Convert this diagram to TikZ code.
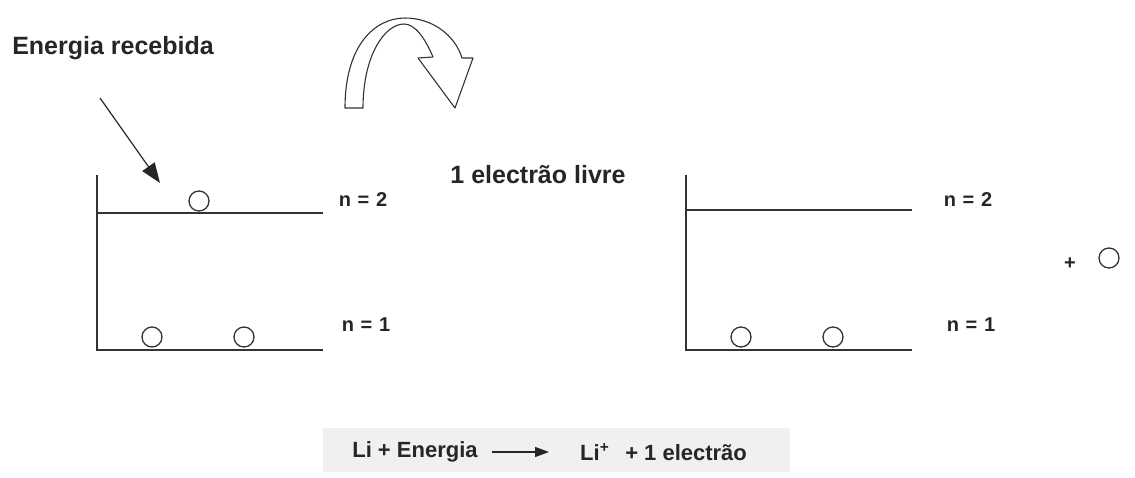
\documentclass[tikz,border=0pt]{standalone}
\usepackage{fontspec}
\setmainfont{Liberation Sans}
\usetikzlibrary{arrows.meta, positioning}

\begin{document}
\begin{tikzpicture}[
  x=1pt,
  y=-1pt,
  every node/.style={font=\fontsize{20}{24}\selectfont\bfseries, text=black!85},
  bigtext/.style={font=\fontsize{25}{30}\selectfont\bfseries},
  eqtext/.style={font=\fontsize{22}{26}\selectfont\bfseries, inner sep=0pt},
  level/.style={line width=1.7pt, black!80},
  electron/.style={circle, draw=black!80, line width=1.3pt, minimum size=20pt, inner sep=0pt},
  arrow/.style={-{Triangle[length=20pt,width=15pt]}, line width=1.2pt, black!85},
  eqarrow/.style={-{Triangle[length=14pt,width=10pt]}, line width=1.4pt, black!85}
]
  % Page frame.
  \useasboundingbox[fill=white] (0,0) rectangle (1135,477);

  % Incoming energy.
  \node[bigtext] (energy) at (113,48) {Energia recebida};
  \coordinate (energytip) at (160,183);
  \draw[arrow] (100,98) -- (energytip);

  % Curved block arrow.
  \draw[line width=1.1pt, black!80, fill=white, line join=round]
    (345,108) .. controls (345,45) and (375,18) .. (405,18)
    .. controls (432,18) and (455,35) .. (462,58)
    -- (473,58) -- (455,108) -- (418,58) -- (433,57)
    .. controls (425,38) and (415,24) .. (404,24)
    .. controls (385,24) and (363,55) .. (363,108) -- cycle;

  % Left atom: before ionisation.
  \coordinate (laxtop) at (97,175);
  \coordinate (laxbot) at (97,350);
  \coordinate (ltwo) at (323,213);
  \coordinate (lone) at (323,350);
  \draw[level] (laxtop) -- (laxbot) -- (lone);
  \draw[level] (97,213) -- (ltwo);
  \node[electron] (lexc) at (199,201) {};
  \node[electron] (lea) at (152,337) {};
  \node[electron] (leb) at (244,337) {};
  \node (ln2) at (363,200) {n\,\,=\,\,2};
  \node (ln1) at (366,325) {n\,\,=\,\,1};

  \node[bigtext] (free) at (538,175) {1 electrão livre};

  % Right atom: after ionisation.
  \coordinate (raxtop) at (686,175);
  \coordinate (raxbot) at (686,350);
  \coordinate (rtwo) at (912,210);
  \coordinate (rone) at (912,350);
  \draw[level] (raxtop) -- (raxbot) -- (rone);
  \draw[level] (686,210) -- (rtwo);
  \node[electron] (rea) at (741,337) {};
  \node[electron] (reb) at (833,337) {};
  \node (rn2) at (968,200) {n\,\,=\,\,2};
  \node (rn1) at (971,325) {n\,\,=\,\,1};

  \node (plus) at (1070,264) {+};
  \node[electron] (freee) at (1109,258) {};

  % Equation.
  \fill[black!6] (323,428) rectangle (790,472);
  \node[eqtext] (eqleft) at (415,452) {Li + Energia};
  \node[eqtext, anchor=west] (eqright) at (580,452) {Li\textsuperscript{+}\hspace{16pt}+ 1 electrão};
  \draw[eqarrow] (492,452) -- (549,452);
\end{tikzpicture}
\end{document}
